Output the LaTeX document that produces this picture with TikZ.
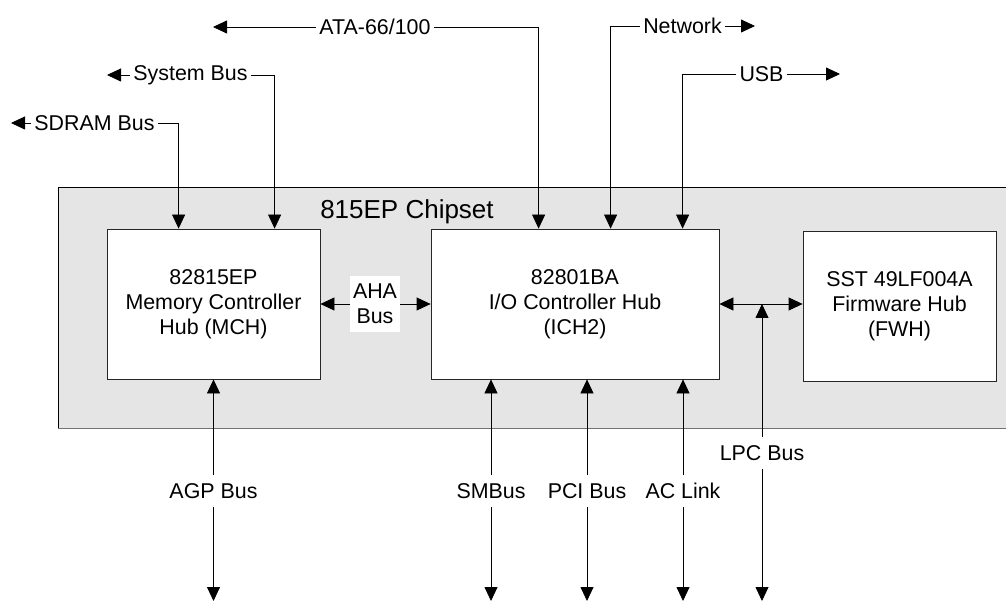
\documentclass[tikz,border=0pt]{standalone}
\usepackage{fontspec}
\setmainfont{Liberation Sans}
\usetikzlibrary{arrows.meta,calc}
\begin{document}
\begin{tikzpicture}[x=1pt,y=-1pt,
  every node/.style={font=\fontsize{21.4}{25}\selectfont},
  chip/.style={draw=black!85,line width=0.8pt,fill=white,align=center,inner sep=0pt},
  lbl/.style={fill=white,inner xsep=3pt,inner ysep=1pt},
  blbl/.style={fill=white,inner xsep=3pt,inner ysep=8pt},
  conn/.style={draw=black,line width=0.8pt},
  tip/.style={-{Triangle[length=14pt,width=13pt]}},
  dtip/.style={{Triangle[length=14pt,width=13pt]}-{Triangle[length=14pt,width=13pt]}}
]
\useasboundingbox (0,0) rectangle (1006,601);
\fill[white] (0,0) rectangle (1006,601);
% chipset area
\fill[black!10] (58,187) rectangle (1010,428);
\draw[black,line width=0.9pt] (1010,187) -- (58,187) -- (58,428);
\draw[black!55,line width=1pt] (58,428) -- (1010,428);
\node (title) at (407,212) {\fontsize{26}{30}\selectfont 815EP Chipset};

% boxes
\node[chip,minimum width=213pt,minimum height=150pt] (mch) at (213.5,304)
  {82815EP\\Memory Controller\\Hub (MCH)};
\node[chip,minimum width=288pt,minimum height=150pt] (ich) at (575,304)
  {82801BA\\I/O Controller Hub\\(ICH2)};
\node[chip,minimum width=193pt,minimum height=150pt] (fwh) at (899.5,306)
  {SST 49LF004A\\Firmware Hub\\(FWH)};

% top labels
\node[lbl] (sdram) at (94.5,123) {SDRAM Bus};
\node[lbl] (sysbus) at (190.5,75) {System Bus};
\node[lbl] (ata) at (375,27) {ATA-66/100};
\node[lbl] (net) at (682.5,26) {Network};
\node[lbl] (usb) at (761.5,74) {USB};
\coordinate (sdtip) at (11,123);
\coordinate (systip) at (107,75);
\coordinate (atatip) at (213,27);
\coordinate (nettip) at (755,26);
\coordinate (usbtip) at (840,74);

\draw[conn,tip] (sdram.west) -- (sdtip);
\draw[conn,tip] (sdram.east) -| ([xshift=72pt]mch.north west);
\draw[conn,tip] (sysbus.west) -- (systip);
\draw[conn,tip] (sysbus.east) -| ([xshift=168pt]mch.north west);
\draw[conn,tip] (ata.west) -- (atatip);
\draw[conn,tip] (ata.east) -| ([xshift=108pt]ich.north west);
\draw[conn,tip] (net.east) -- (nettip);
\draw[conn,tip] (net.west) -| ([xshift=180pt]ich.north west);
\draw[conn,tip] (usb.east) -- (usbtip);
\draw[conn,tip] (usb.west) -| ([xshift=252pt]ich.north west);

% AHA bus
\draw[conn,dtip] (mch.east) -- (ich.west);
\node[fill=white,align=center,inner sep=0pt,minimum width=50pt,minimum height=56pt] (aha) at (375,304) {AHA\\Bus};

% ICH - FWH with LPC
\draw[conn,dtip] (ich.east) -- (fwh.west |- ich.east);
\coordinate (lpcj) at (762,304);
\node[blbl] (lpc) at (762,453) {LPC Bus};
\coordinate (lpcb) at (762,601);
\draw[conn,tip] (lpc.north) -- (lpcj);
\draw[conn,tip] (lpc.south) -- (lpcb);

% bottom buses
\node[blbl] (agp) at (213.5,491) {AGP Bus};
\node[blbl] (smb) at (491,491) {SMBus};
\node[blbl] (pci) at (587,491) {PCI Bus};
\node[blbl] (ac) at (683,491) {AC Link};
\coordinate (agpb) at (213.5,601);
\coordinate (smbb) at (491,601);
\coordinate (pcib) at (587,601);
\coordinate (acb) at (683,601);

\draw[conn,tip] (agp.north) -- (mch.south);
\draw[conn,tip] (agp.south) -- (agpb);
\draw[conn,tip] (smb.north) -- (smb.north |- ich.south);
\draw[conn,tip] (smb.south) -- (smbb);
\draw[conn,tip] (pci.north) -- (pci.north |- ich.south);
\draw[conn,tip] (pci.south) -- (pcib);
\draw[conn,tip] (ac.north) -- (ac.north |- ich.south);
\draw[conn,tip] (ac.south) -- (acb);
\end{tikzpicture}
\end{document}
